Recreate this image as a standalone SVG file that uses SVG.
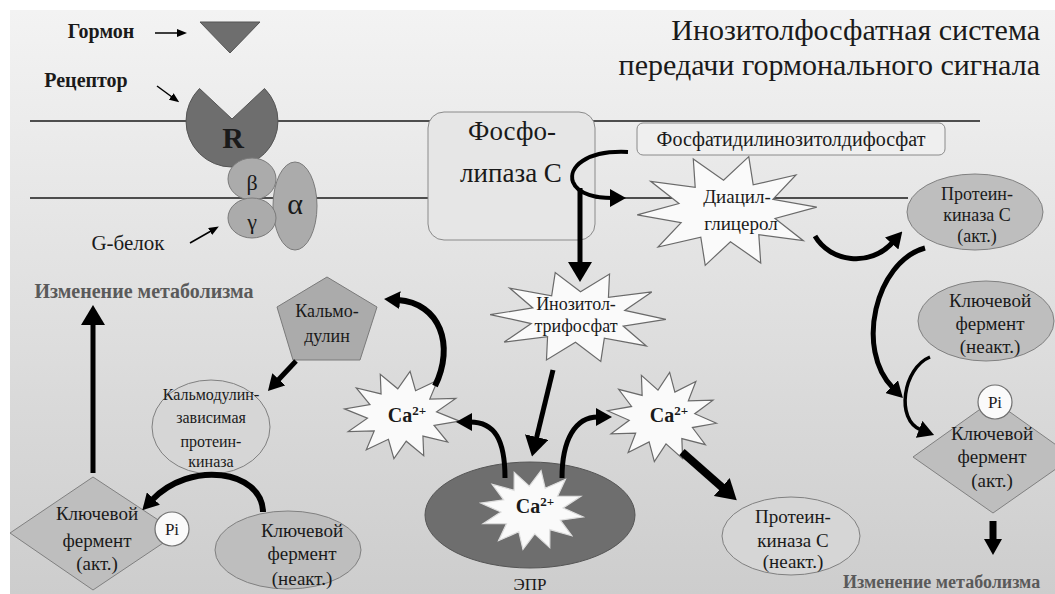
<svg xmlns="http://www.w3.org/2000/svg" width="1055" height="594" viewBox="0 0 1055 594">
<style>
.t{fill:#1a1a1a;text-anchor:middle}
.b{font-weight:bold}
.star{fill:#fafafa;stroke:#6a6a6a;stroke-width:1.2}
.dark{fill:#6e6e6e;stroke:#555;stroke-width:1}
.mid{fill:#ababab;stroke:#7a7a7a;stroke-width:1}
.lt{fill:#bebebe;stroke:#808080;stroke-width:1}
.lt2{fill:#d6d6d6;stroke:#808080;stroke-width:1}
.mem{stroke:#1a1a1a;stroke-width:1.5;fill:none}
.cn{fill:none;stroke:#000}
.pi{fill:#fafafa;stroke:#707070;stroke-width:1.2}
</style>
<defs>
<linearGradient id="bg" x1="0" y1="0" x2="0" y2="1">
<stop offset="0" stop-color="#f3f3f3"/>
<stop offset="0.5" stop-color="#e0e0e0"/>
<stop offset="1" stop-color="#cdcdcd"/>
</linearGradient>
<path id="s12" vector-effect="non-scaling-stroke" d="M1,0 L.58,.155 L.866,.5 L.424,.424 L.5,.866 L.155,.58 L0,1 L-.155,.58 L-.5,.866 L-.424,.424 L-.866,.5 L-.58,.155 L-1,0 L-.58,-.155 L-.866,-.5 L-.424,-.424 L-.5,-.866 L-.155,-.58 L0,-1 L.155,-.58 L.5,-.866 L.424,-.424 L.866,-.5 L.58,-.155 Z"/>
<path id="s10" vector-effect="non-scaling-stroke" d="M1,0 L.523,.17 L.809,.588 L.323,.445 L.309,.951 L0,.55 L-.309,.951 L-.323,.445 L-.809,.588 L-.523,.17 L-1,0 L-.523,-.17 L-.809,-.588 L-.323,-.445 L-.309,-.951 L0,-.55 L.309,-.951 L.323,-.445 L.809,-.588 L.523,-.17 Z"/>
<marker id="ah" viewBox="0 0 20 24" markerWidth="20" markerHeight="24" refX="3" refY="12" markerUnits="userSpaceOnUse" orient="auto"><path d="M0,0 L20,12 L0,24 Z" fill="#000"/></marker>
<marker id="ahm" viewBox="0 0 16 18" markerWidth="16" markerHeight="18" refX="2" refY="9" markerUnits="userSpaceOnUse" orient="auto"><path d="M0,0 L16,9 L0,18 Z" fill="#000"/></marker>
<marker id="ahs" viewBox="0 0 10 8" markerWidth="10" markerHeight="8" refX="1" refY="4" markerUnits="userSpaceOnUse" orient="auto"><path d="M0,0 L10,4 L0,8 Z" fill="#000"/></marker>
</defs>
<rect width="1055" height="594" fill="#ffffff"/>
<rect x="10" y="10" width="1045" height="584" fill="url(#bg)"/>
<g id="membrane">
<line class="mem" x1="30" y1="121" x2="980" y2="121"/>
<line class="mem" x1="30" y1="198" x2="908" y2="198"/>
</g>
<g id="title">
<text class="t" font-family="Liberation Serif, serif" x="1040" y="40" font-size="30" text-anchor="end" style="text-anchor:end">Инозитолфосфатная  система</text>
<text class="t" font-family="Liberation Serif, serif" x="1040" y="75" font-size="30" style="text-anchor:end">передачи гормонального сигнала</text>
</g>
<g id="hormone">
<text class="t b" font-family="Liberation Serif, serif" x="101" y="38" font-size="20">Гормон</text>
<polygon class="dark" points="200,22 260,22 230,53"/>
</g>
<g id="receptor">
<text class="t b" font-family="Liberation Serif, serif" x="86" y="87" font-size="20">Рецептор</text>
<path class="dark" d="M232,119 L264.5,88.5 A46,46 0 1,1 199.5,88.5 Z"/>
<text class="t b" font-family="Liberation Serif, serif" x="233" y="148" font-size="30">R</text>
</g>
<g id="gprotein">
<ellipse class="mid" cx="295" cy="206" rx="22" ry="44"/>
<ellipse class="mid" cx="252" cy="179" rx="24" ry="21"/>
<ellipse class="mid" cx="252" cy="218" rx="24" ry="20"/>
<text class="t" font-family="Liberation Serif, serif" x="252" y="190" font-size="22">β</text>
<text class="t" font-family="Liberation Serif, serif" x="252" y="229" font-size="22">γ</text>
<text class="t" font-family="Liberation Serif, serif" x="295" y="214" font-size="30">α</text>
<text class="t" font-family="Liberation Serif, serif" x="128" y="250" font-size="21">G-белок</text>
</g>
<g id="plc">
<rect x="428" y="112" width="167" height="128" rx="16" fill="#e6e6e6" stroke="#8a8a8a" stroke-width="1"/>
<text class="t" font-family="Liberation Serif, serif" x="512" y="140" font-size="27">Фосфо-</text>
<text class="t" font-family="Liberation Serif, serif" x="511" y="182" font-size="27">липаза С</text>
</g>
<g id="pip2">
<rect x="637" y="123" width="308" height="32" rx="6" fill="#efefef" stroke="#8a8a8a" stroke-width="1"/>
<text class="t" font-family="Liberation Serif, serif" x="791" y="146" font-size="20">Фосфатидилинозитолдифосфат</text>
</g>
<g id="dag">
<use href="#s10" class="star" transform="translate(727,211) scale(90,56) rotate(-4)"/>
<text class="t" font-family="Liberation Serif, serif" x="737" y="203" font-size="19">Диацил-</text>
<text class="t" font-family="Liberation Serif, serif" x="741" y="230" font-size="19">глицерол</text>
</g>
<g id="pkc-act">
<ellipse class="lt" cx="975" cy="212" rx="68" ry="38"/>
<text class="t" font-family="Liberation Serif, serif" x="977" y="200" font-size="18">Протеин-</text>
<text class="t" font-family="Liberation Serif, serif" x="977" y="221" font-size="18">киназа С</text>
<text class="t" font-family="Liberation Serif, serif" x="977" y="242" font-size="18">(акт.)</text>
</g>
<g id="ip3">
<use href="#s10" class="star" transform="translate(578,317) scale(88,46) rotate(3)"/>
<text class="t" font-family="Liberation Serif, serif" x="576" y="310" font-size="18">Инозитол-</text>
<text class="t" font-family="Liberation Serif, serif" x="576" y="332" font-size="18">трифосфат</text>
</g>
<g id="calmodulin">
<polygon class="mid" points="327,277 377,307 360,360 293,360 277,307"/>
<text class="t" font-family="Liberation Serif, serif" x="327" y="317" font-size="18">Кальмо-</text>
<text class="t" font-family="Liberation Serif, serif" x="327" y="342" font-size="18">дулин</text>
</g>
<g id="ca-left">
<use href="#s12" class="star" transform="translate(402,415) scale(58,44) rotate(8)"/>
<text class="t b" font-family="Liberation Serif, serif" x="407" y="422" font-size="20">Ca<tspan font-size="13" dy="-7">2+</tspan></text>
</g>
<g id="ca-right">
<use href="#s12" class="star" transform="translate(662,417) scale(55,45) rotate(8)"/>
<text class="t b" font-family="Liberation Serif, serif" x="669" y="422" font-size="20">Ca<tspan font-size="13" dy="-7">2+</tspan></text>
</g>
<g id="epr">
<ellipse class="dark" cx="530" cy="515" rx="105" ry="53"/>
<use href="#s12" class="star" transform="translate(532,510) scale(52,40) rotate(10)" style="stroke:#dddddd"/>
<text class="t b" font-family="Liberation Serif, serif" x="535" y="513" font-size="20">Ca<tspan font-size="13" dy="-7">2+</tspan></text>
<text class="t" font-family="Liberation Serif, serif" x="530" y="590" font-size="17">ЭПР</text>
</g>
<g id="camk">
<ellipse class="lt2" cx="211" cy="427" rx="59" ry="47"/>
<text class="t" font-family="Liberation Serif, serif" x="211" y="400" font-size="16">Кальмодулин-</text>
<text class="t" font-family="Liberation Serif, serif" x="211" y="423" font-size="16">зависимая</text>
<text class="t" font-family="Liberation Serif, serif" x="211" y="447" font-size="16">протеин-</text>
<text class="t" font-family="Liberation Serif, serif" x="211" y="467" font-size="16">киназа</text>
</g>
<g id="key-inact-left">
<ellipse class="lt" cx="288" cy="550" rx="73" ry="39"/>
<text class="t" font-family="Liberation Serif, serif" x="302" y="537" font-size="19">Ключевой</text>
<text class="t" font-family="Liberation Serif, serif" x="302" y="560" font-size="19">фермент</text>
<text class="t" font-family="Liberation Serif, serif" x="302" y="585" font-size="19">(неакт.)</text>
</g>
<g id="key-act-left">
<polygon class="lt" points="93,477 178,533 93,590 10,533"/>
<circle class="pi" cx="172" cy="529" r="17"/>
<text class="t" font-family="Liberation Serif, serif" x="172" y="535" font-size="17">Pi</text>
<text class="t" font-family="Liberation Serif, serif" x="97" y="520" font-size="19">Ключевой</text>
<text class="t" font-family="Liberation Serif, serif" x="97" y="547" font-size="19">фермент</text>
<text class="t" font-family="Liberation Serif, serif" x="97" y="570" font-size="19">(акт.)</text>
</g>
<g id="metab-left">
<text class="t b" font-family="Liberation Serif, serif" x="144" y="298" font-size="20" style="fill:#5a5a5a">Изменение метаболизма</text>
</g>
<g id="key-inact-right">
<ellipse class="lt" cx="986" cy="321" rx="68" ry="40"/>
<text class="t" font-family="Liberation Serif, serif" x="990" y="307" font-size="19">Ключевой</text>
<text class="t" font-family="Liberation Serif, serif" x="990" y="330" font-size="19">фермент</text>
<text class="t" font-family="Liberation Serif, serif" x="990" y="353" font-size="19">(неакт.)</text>
</g>
<g id="key-act-right">
<polygon class="lt" points="993,400 1073,457 993,513 913,457"/>
<circle class="pi" cx="995" cy="402" r="17"/>
<text class="t" font-family="Liberation Serif, serif" x="995" y="408" font-size="17">Pi</text>
<text class="t" font-family="Liberation Serif, serif" x="992" y="440" font-size="19">Ключевой</text>
<text class="t" font-family="Liberation Serif, serif" x="992" y="463" font-size="19">фермент</text>
<text class="t" font-family="Liberation Serif, serif" x="992" y="487" font-size="19">(акт.)</text>
</g>
<g id="pkc-inact">
<ellipse class="lt2" cx="791" cy="536" rx="69" ry="39"/>
<text class="t" font-family="Liberation Serif, serif" x="793" y="523" font-size="19">Протеин-</text>
<text class="t" font-family="Liberation Serif, serif" x="793" y="547" font-size="19">киназа С</text>
<text class="t" font-family="Liberation Serif, serif" x="793" y="568" font-size="19">(неакт.)</text>
</g>
<g id="metab-right">
<text class="t b" font-family="Liberation Serif, serif" x="843" y="588" font-size="18" style="fill:#5a5a5a;text-anchor:start">Изменение метаболизма</text>
</g>
<g id="connectors">
<path class="cn" stroke-width="1.5" d="M155,33 L178,33" marker-end="url(#ahs)"/>
<path class="cn" stroke-width="1.5" d="M157,86 L172,97" marker-end="url(#ahs)"/>
<path class="cn" stroke-width="1.5" d="M190,243 L211,231" marker-end="url(#ahs)"/>
<path class="cn" stroke-width="4" d="M628,152 C585,150 568,168 573,182 C578,195 598,198 612,198" marker-end="url(#ahm)"/>
<path class="cn" stroke-width="5" d="M580,188 L580,265" marker-end="url(#ah)"/>
<path class="cn" stroke-width="5" d="M815,236 C830,262 870,268 893,242" marker-end="url(#ahm)"/>
<path class="cn" stroke-width="5" d="M925,248 C875,262 855,350 893,388" marker-end="url(#ahm)"/>
<path class="cn" stroke-width="3.5" d="M930,357 C903,368 895,420 921,430" marker-end="url(#ahm)"/>
<path class="cn" stroke-width="7" d="M993,521 L993,541" marker-end="url(#ahm)"/>
<path class="cn" stroke-width="8" d="M682,452 L724,489" marker-end="url(#ah)"/>
<path class="cn" stroke-width="5" d="M553,370 L536,440" marker-end="url(#ah)"/>
<path class="cn" stroke-width="5" d="M505,478 C505,440 495,422 470,422" marker-end="url(#ahm)"/>
<path class="cn" stroke-width="5" d="M562,478 C562,440 575,417 598,417" marker-end="url(#ahm)"/>
<path class="cn" stroke-width="6" d="M435,386 C455,345 440,303 398,300" marker-end="url(#ahm)"/>
<path class="cn" stroke-width="5" d="M296,361 L277.5,380.8" marker-end="url(#ahm)"/>
<path class="cn" stroke-width="6" d="M263,512 C262,470 190,460 152,500" marker-end="url(#ahm)"/>
<path class="cn" stroke-width="5" d="M93,473 L93,322" marker-end="url(#ah)"/>
</g>
</svg>
